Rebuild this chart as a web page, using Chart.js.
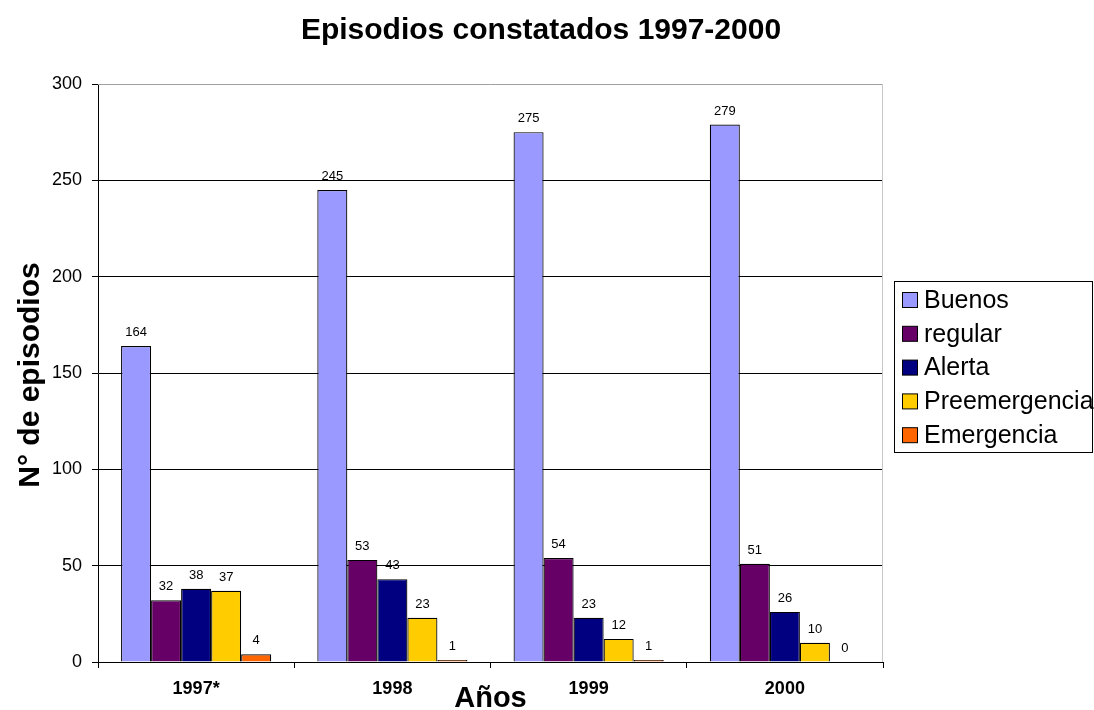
<!DOCTYPE html>
<html>
<head>
<meta charset="utf-8">
<script src="https://cdn.jsdelivr.net/npm/chart.js@4/dist/chart.umd.min.js"></script>
<style>
  html, body { margin: 0; padding: 0; background: #fff; }
  #wrap { width: 1094px; height: 710px; position: relative; }
</style>
</head>
<body>
<div id="wrap"><canvas id="c" width="1094" height="710"></canvas></div>
<script>
const years = ['1997*', '1998', '1999', '2000'];
const buenos = [164, 245, 275, 279];
const regular = [32, 53, 54, 51];
const alerta = [38, 43, 23, 26];
const preemergencia = [37, 23, 12, 10];
const emergencia = [4, 1, 1, 0];
const seriesNames = ['Buenos', 'regular', 'Alerta', 'Preemergencia', 'Emergencia'];
const seriesColors = ['#9999FF', '#660066', '#000080', '#FFCC00', '#FF6600'];
const yTicks = [0, 50, 100, 150, 200, 250, 300];

const FONT = 'Liberation Sans, Arial, sans-serif';
const seriesValues = [buenos, regular, alerta, preemergencia, emergencia];

const datasets = seriesNames.map((name, i) => ({
  label: name,
  data: seriesValues[i],
  backgroundColor: seriesColors[i],
  borderColor: '#000',
  borderWidth: 1.2,
  borderSkipped: 'bottom',
  categoryPercentage: 0.765,
  barPercentage: 1.0
}));

// Value labels above every bar, titles, plot border and the boxed legend
const decorations = {
  id: 'decorations',
  beforeDatasetsDraw(chart) {
    const { ctx, chartArea: a } = chart;
    ctx.save();
    ctx.strokeStyle = '#a0a0a0';
    ctx.lineWidth = 1;
    ctx.beginPath();
    ctx.moveTo(a.left, a.top + 0.5);
    ctx.lineTo(a.right - 0.5, a.top + 0.5);
    ctx.stroke();
    ctx.strokeStyle = '#c8c8c8';
    ctx.beginPath();
    ctx.moveTo(a.right - 0.5, a.top);
    ctx.lineTo(a.right - 0.5, a.bottom);
    ctx.stroke();
    ctx.restore();
  },
  afterDraw(chart) {
    const { ctx, chartArea: a } = chart;
    ctx.save();
    // value labels
    ctx.fillStyle = '#000';
    ctx.font = '13px ' + FONT;
    ctx.textAlign = 'center';
    ctx.textBaseline = 'bottom';
    chart.data.datasets.forEach((ds, di) => {
      chart.getDatasetMeta(di).data.forEach((bar, i) => {
        ctx.fillText(String(ds.data[i]), bar.x, bar.y - 7);
      });
    });
    // chart title
    ctx.font = 'bold 30px ' + FONT;
    ctx.textBaseline = 'middle';
    ctx.fillText('Episodios constatados 1997-2000', 541, 31);
    // x axis title
    ctx.font = 'bold 29px ' + FONT;
    ctx.fillText('Años', (a.left + a.right) / 2, 699);
    // y axis title
    ctx.save();
    ctx.translate(31, (a.top + a.bottom) / 2 + 2);
    ctx.rotate(-Math.PI / 2);
    ctx.font = 'bold 30px ' + FONT;
    ctx.fillText('N° de episodios', 0, 0);
    ctx.restore();
    // legend
    const lx = 894.5, ly = 281.5, lw = 198, lh = 171;
    ctx.fillStyle = '#fff';
    ctx.fillRect(lx, ly, lw, lh);
    ctx.strokeStyle = '#000';
    ctx.lineWidth = 1;
    ctx.strokeRect(lx, ly, lw, lh);
    ctx.font = '25px ' + FONT;
    ctx.textAlign = 'left';
    ctx.textBaseline = 'middle';
    chart.data.datasets.forEach((ds, i) => {
      const cy = 300 + i * 33.8;
      ctx.fillStyle = ds.backgroundColor;
      ctx.fillRect(902.5, cy - 7.5, 15, 15);
      ctx.strokeStyle = '#000';
      ctx.strokeRect(902.5, cy - 7.5, 15, 15);
      ctx.fillStyle = '#000';
      ctx.fillText(ds.label, 924, cy + 1);
    });
    ctx.restore();
  }
};

new Chart(document.getElementById('c'), {
  type: 'bar',
  data: { labels: years, datasets },
  options: {
    responsive: false,
    animation: false,
    devicePixelRatio: 1,
    layout: { padding: { top: 84, right: 211, bottom: 0, left: 0 } },
    plugins: {
      legend: { display: false },
      title: { display: false },
      tooltip: { enabled: false }
    },
    scales: {
      x: {
        grid: {
          display: true,
          drawOnChartArea: false,
          drawTicks: true,
          tickLength: 6,
          color: '#000',
          offset: true
        },
        border: { color: '#000', width: 1 },
        ticks: {
          color: '#000',
          font: { family: FONT, size: 18, weight: 'bold' },
          padding: 10
        },
        afterFit(s) { s.height = 48; }
      },
      y: {
        min: 0,
        max: 300,
        afterBuildTicks(s) { s.ticks = yTicks.map(v => ({ value: v })); },
        grid: {
          color: (c) => c.tick && c.tick.value === 300 ? 'rgba(0,0,0,0)' : '#000',
          lineWidth: 1,
          drawTicks: true,
          tickLength: 6,
          tickColor: '#000'
        },
        border: { color: '#000', width: 1 },
        ticks: {
          color: '#000',
          font: { family: FONT, size: 18 },
          padding: 10
        },
        afterFit(s) { s.width = 98; }
      }
    }
  },
  plugins: [decorations]
});
</script>
</body>
</html>
